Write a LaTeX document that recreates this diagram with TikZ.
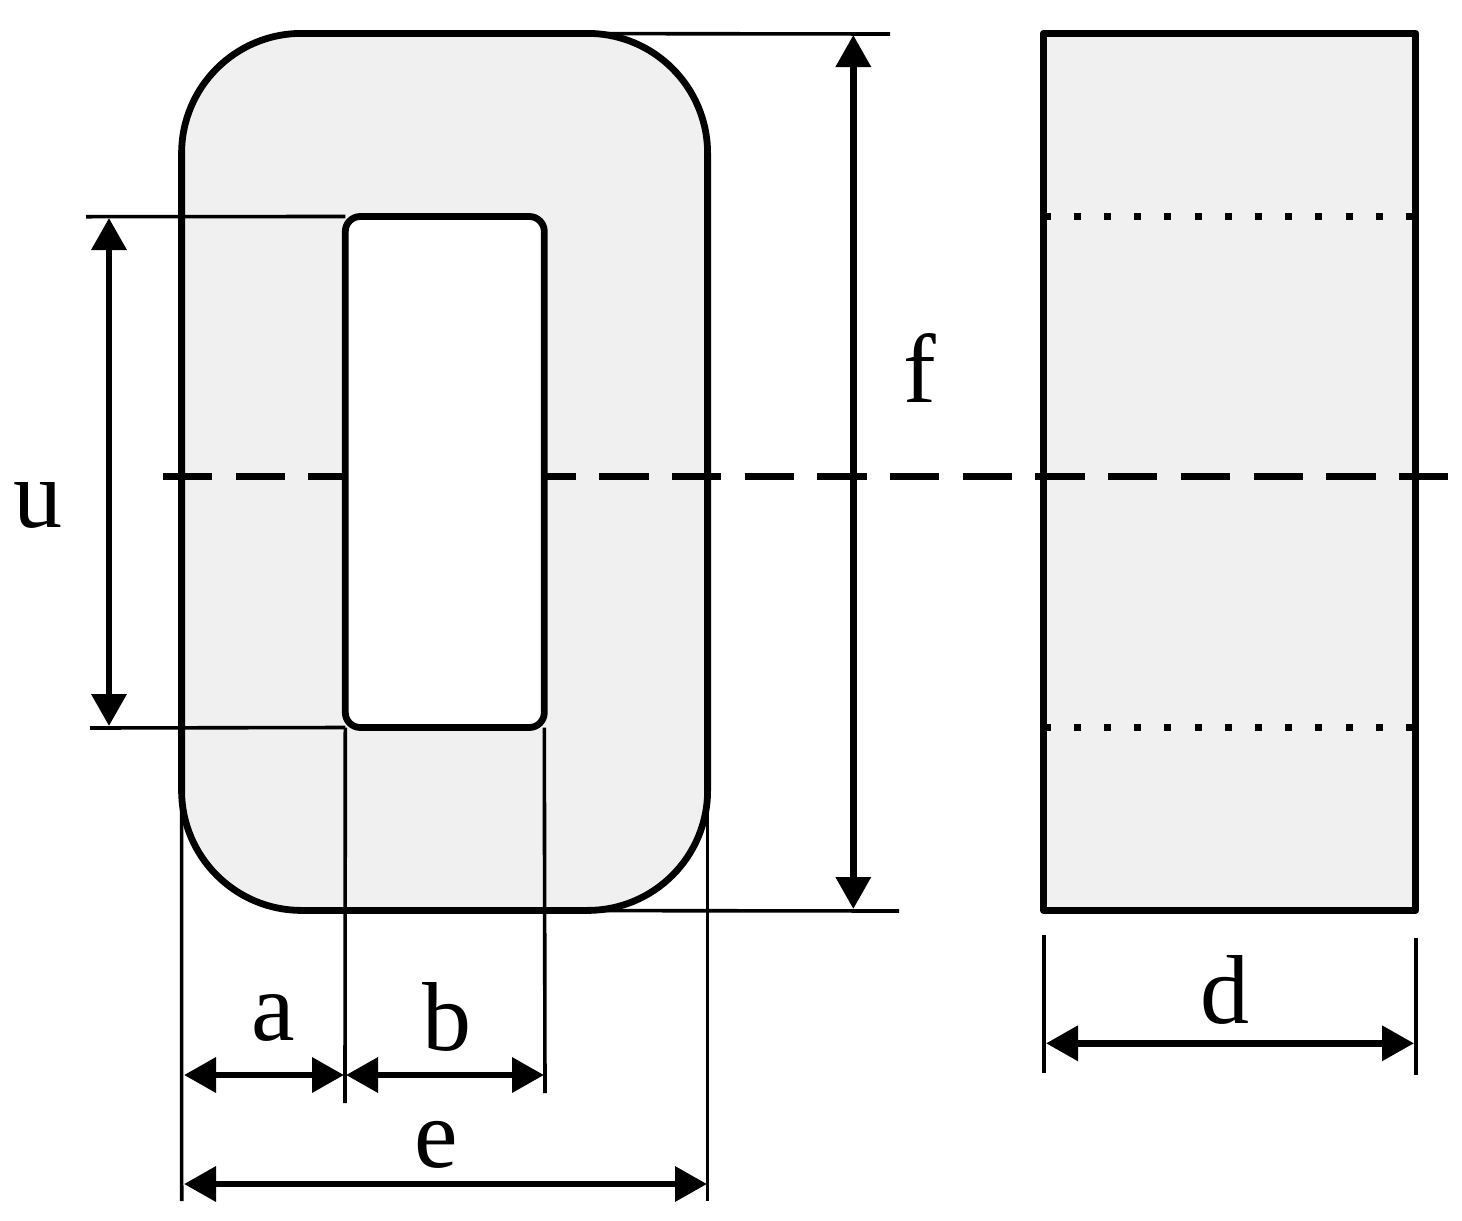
\documentclass[tikz,border=0pt]{standalone}
\usepackage{fontspec}
\setmainfont{Liberation Serif}
\usetikzlibrary{arrows.meta}
\definecolor{coregray}{HTML}{F0F0F0}

\begin{document}
\begin{tikzpicture}[x=1pt, y=-1pt,
	part/.style = {draw, fill=coregray, line width=6.8pt, line join=round, inner sep=0pt, outer sep=0pt},
	thin/.style = {line width=3.6pt},
	dim/.style = {line width=6.6pt, {Triangle[length=32pt,width=34pt]}-{Triangle[length=32pt,width=34pt]}},
	letter/.style = {anchor=base, inner sep=0pt, font=\fontsize{98}{98}\selectfont}]
	\useasboundingbox (0,0) rectangle (1462,1221);
	\node[part, rounded corners=120pt, minimum width=526pt, minimum height=877pt] (core) at (444.6,471.9) {};
	\node[part, minimum width=372.4pt, minimum height=877pt] (side) at (1229.6,471.7) {};
	\coordinate (axisL) at (163,476.4);
	\coordinate (axisR) at (1448.5,476.4);
	\draw[line width=6.8pt, dash pattern=on 49.3pt off 23.4pt] (axisL) -- (axisR);
	\node[part, fill=white, rounded corners=15pt, minimum width=199pt, minimum height=511pt] (window) at (444.8,472) {};
	\coordinate (dot1L) at (1043.5,216.5);
	\coordinate (dot1R) at (1416,216.5);
	\coordinate (dot2L) at (1043.5,727.3);
	\coordinate (dot2R) at (1416,727.3);
	\draw[line width=6.8pt, dash pattern=on 7pt off 23.2pt] (dot1L) -- (dot1R);
	\draw[line width=6.8pt, dash pattern=on 7pt off 23.2pt] (dot2L) -- (dot2R);
	\coordinate (uTopEnd) at (86,216.7);
	\coordinate (uBotEnd) at (90,728);
	\coordinate (fTopEnd) at (890,34);
	\coordinate (fBotEnd) at (899,911);
	\coordinate (leftEnd) at (181.7,1201);
	\coordinate (midEnd) at (345,1103);
	\coordinate (winEnd) at (545,1093);
	\coordinate (rightEnd) at (707.6,1201);
	\coordinate (dLtop) at (1044,935);
	\coordinate (dLbot) at (1044,1072.7);
	\coordinate (dRtop) at (1416,938);
	\coordinate (dRbot) at (1416,1075);
	\draw[thin] (uTopEnd) -- (window.north west);
	\draw[thin] (uBotEnd) -- (window.south west);
	\draw[thin] (core.north) -- (fTopEnd);
	\draw[thin] (core.south) -- (fBotEnd);
	\draw[thin] (core.west) -- (leftEnd);
	\draw[thin] (window.south west) -- (midEnd);
	\draw[thin] (window.south east) -- (winEnd);
	\draw[thin] (core.east) -- (rightEnd);
	\draw[thin] (dLtop) -- (dLbot);
	\draw[thin] (dRtop) -- (dRbot);
	\coordinate (uA) at (109,218);
	\coordinate (uB) at (109,726);
	\coordinate (fA) at (853.3,35);
	\coordinate (fB) at (853.3,909);
	\coordinate (aA) at (184,1075);
	\coordinate (aB) at (344,1075);
	\coordinate (bA) at (346,1075);
	\coordinate (bB) at (544,1075);
	\coordinate (eA) at (184,1184);
	\coordinate (eB) at (707,1184);
	\coordinate (dA) at (1046,1043.3);
	\coordinate (dB) at (1414,1043.3);
	\draw[dim] (uA) -- (uB);
	\draw[dim] (fA) -- (fB);
	\draw[dim] (aA) -- (aB);
	\draw[dim] (bA) -- (bB);
	\draw[dim] (eA) -- (eB);
	\draw[dim] (dA) -- (dB);
	\node[letter] (labelU) at (38,527) {u};
	\node[letter] (labelF) at (920,402) {f};
	\node[letter] (labelA) at (273,1040) {a};
	\node[letter] (labelB) at (447,1050) {b};
	\node[letter] (labelE) at (436,1167) {e};
	\node[letter] (labelD) at (1225,1023) {d};
\end{tikzpicture}
\end{document}
